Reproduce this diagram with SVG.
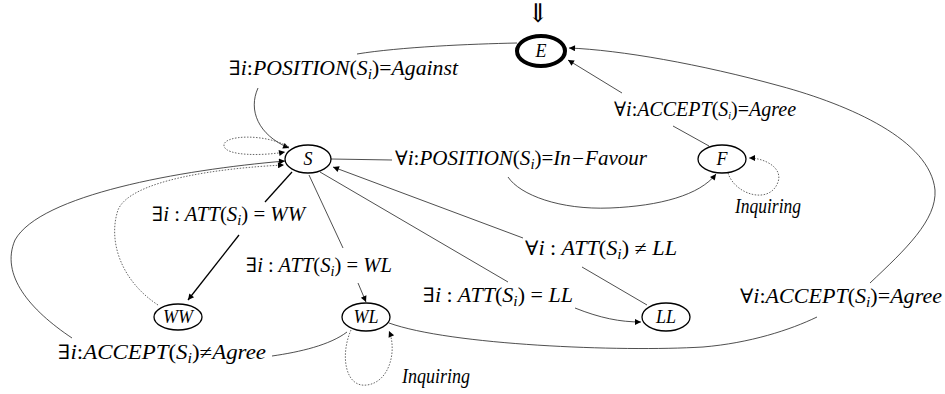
<svg xmlns="http://www.w3.org/2000/svg" width="945" height="394" viewBox="0 0 945 394">
<style>
.n{fill:#fff;stroke:#000;stroke-width:1.3}
.nt{font-style:italic;font-size:18px;text-anchor:middle}
.lb{font-style:italic;font-size:20px}
.up{font-style:normal}
.e{fill:none;stroke:#222;stroke-width:0.8}
.b{fill:none;stroke:#000;stroke-width:1.3}
.d{fill:none;stroke:#555;stroke-width:0.9;stroke-dasharray:1.5 1.5}
</style>
<defs>
<marker id="ah" viewBox="0 0 10 10" refX="10" refY="5" markerWidth="9" markerHeight="6" orient="auto" markerUnits="userSpaceOnUse"><path d="M0,0 L10,5 L0,10 z" fill="#000"/></marker>
</defs>
<rect width="945" height="394" fill="#fff"/>
<g id="connectors" font-family="'Liberation Serif', 'DejaVu Serif', serif">
<text x="538" y="22" font-size="26" text-anchor="middle">⇓</text>
<path class="e" d="M517,43 C470,44 400,47 357,54"/>
<path class="e" d="M258,88 C248,110 258,135 289,148" marker-end="url(#ah)"/>
<path class="e" d="M709,146 L673,126"/>
<path class="e" d="M622,93 L568,60" marker-end="url(#ah)"/>
<path class="e" d="M389,323 C450,345 620,352 703,347 C750,343 790,330 817,317"/>
<path class="e" d="M870,283 C905,250 937,220 935,190 C930,140 850,105 780,86 C700,64 620,50 569,48" marker-end="url(#ah)"/>
<path class="e" d="M331,159 L392,160"/>
<path class="e" d="M508,177 C520,195 560,210 610,208 C660,206 700,195 716,174" marker-end="url(#ah)"/>
<path class="d" d="M728,173 C735,195 770,205 778,182 C783,168 765,158 749,158" marker-end="url(#ah)"/>
<path class="d" d="M289,147 C265,133 222,135 224,146 C226,156 262,156 285,152" marker-end="url(#ah)"/>
<path class="e" d="M347,332 C330,345 300,352 272,356"/>
<path class="e" d="M72,338 C30,310 0,275 15,240 C40,195 180,170 285,161" marker-end="url(#ah)"/>
<path class="d" d="M158,305 C120,280 108,240 118,210 C130,180 220,168 284,165" marker-end="url(#ah)"/>
<path class="b" d="M292,172 L265,202"/>
<path class="b" d="M239,235 L188,300" marker-end="url(#ah)"/>
<path class="e" d="M309,175 L343,248"/>
<path class="e" d="M358,283 L366,302" marker-end="url(#ah)"/>
<path class="e" d="M647,305 L582,267"/>
<path class="e" d="M523,238 L333,167" marker-end="url(#ah)"/>
<path class="e" d="M320,172 L508,282"/>
<path class="e" d="M575,308 C600,318 620,322 641,322" marker-end="url(#ah)"/>
<path class="d" d="M351,330 C340,355 345,388 367,385 C390,382 397,350 389,331" marker-end="url(#ah)"/>
<text class="lb" x="229" y="75" font-size="21" textLength="229" lengthAdjust="spacingAndGlyphs"><tspan class="up">∃</tspan>i<tspan class="up">:</tspan>POSITION<tspan class="up">(</tspan>S<tspan dy="4" font-size="14">i</tspan><tspan dy="-4" class="up">)=</tspan>Against</text>
<text class="lb" x="614" y="116" font-size="14"><tspan class="up">∀</tspan>i<tspan class="up">:</tspan>ACCEPT<tspan class="up">(</tspan>S<tspan dy="3" font-size="10">i</tspan><tspan dy="-3" class="up">)=</tspan>Agree</text>
<text class="lb" x="395" y="165" textLength="252" lengthAdjust="spacingAndGlyphs"><tspan class="up">∀</tspan>i<tspan class="up">:</tspan>POSITION<tspan class="up">(</tspan>S<tspan dy="4" font-size="14">i</tspan><tspan dy="-4" class="up">)=</tspan>In−Favour</text>
<text class="lb" x="735" y="213" font-size="17" textLength="66" lengthAdjust="spacingAndGlyphs">Inquiring</text>
<text class="lb" x="152" y="221" textLength="153" lengthAdjust="spacingAndGlyphs"><tspan class="up">∃</tspan>i <tspan class="up">:</tspan> ATT<tspan class="up">(</tspan>S<tspan dy="4" font-size="14">i</tspan><tspan dy="-4" class="up">) = </tspan>WW</text>
<text class="lb" x="246" y="272" textLength="146" lengthAdjust="spacingAndGlyphs"><tspan class="up">∃</tspan>i <tspan class="up">:</tspan> ATT<tspan class="up">(</tspan>S<tspan dy="4" font-size="14">i</tspan><tspan dy="-4" class="up">) = </tspan>WL</text>
<text class="lb" x="525" y="255" textLength="152" lengthAdjust="spacingAndGlyphs"><tspan class="up">∀</tspan>i <tspan class="up">:</tspan> ATT<tspan class="up">(</tspan>S<tspan dy="4" font-size="14">i</tspan><tspan dy="-4" class="up">) ≠ </tspan>LL</text>
<text class="lb" x="423" y="302" textLength="150" lengthAdjust="spacingAndGlyphs"><tspan class="up">∃</tspan>i <tspan class="up">:</tspan> ATT<tspan class="up">(</tspan>S<tspan dy="4" font-size="14">i</tspan><tspan dy="-4" class="up">) = </tspan>LL</text>
<text class="lb" x="58" y="359" textLength="208" lengthAdjust="spacingAndGlyphs"><tspan class="up">∃</tspan>i<tspan class="up">:</tspan>ACCEPT<tspan class="up">(</tspan>S<tspan dy="4" font-size="14">i</tspan><tspan dy="-4" class="up">)≠</tspan>Agree</text>
<text class="lb" x="740" y="303" textLength="202" lengthAdjust="spacingAndGlyphs"><tspan class="up">∀</tspan>i<tspan class="up">:</tspan>ACCEPT<tspan class="up">(</tspan>S<tspan dy="4" font-size="14">i</tspan><tspan dy="-4" class="up">)=</tspan>Agree</text>
<text class="lb" x="402" y="383" font-size="17" textLength="68" lengthAdjust="spacingAndGlyphs">Inquiring</text>
</g>
<g font-family="'Liberation Serif', 'DejaVu Serif', serif">
<g id="node-E"><ellipse cx="541" cy="51" rx="24" ry="15" fill="#fff" stroke="#000" stroke-width="4"/><text class="nt" x="541" y="57">E</text></g>
<g id="node-S"><ellipse class="n" cx="308" cy="159" rx="23" ry="14"/><text class="nt" x="308" y="165">S</text></g>
<g id="node-F"><ellipse class="n" cx="722" cy="159" rx="24" ry="14"/><text class="nt" x="722" y="165">F</text></g>
<g id="node-WW"><ellipse class="n" cx="178" cy="317" rx="24" ry="13"/><text class="nt" x="178" y="323">WW</text></g>
<g id="node-WL"><ellipse class="n" cx="366" cy="317" rx="24" ry="14"/><text class="nt" x="366" y="323">WL</text></g>
<g id="node-LL"><ellipse class="n" cx="666" cy="317" rx="24" ry="14"/><text class="nt" x="666" y="323">LL</text></g>
</g>
</svg>
